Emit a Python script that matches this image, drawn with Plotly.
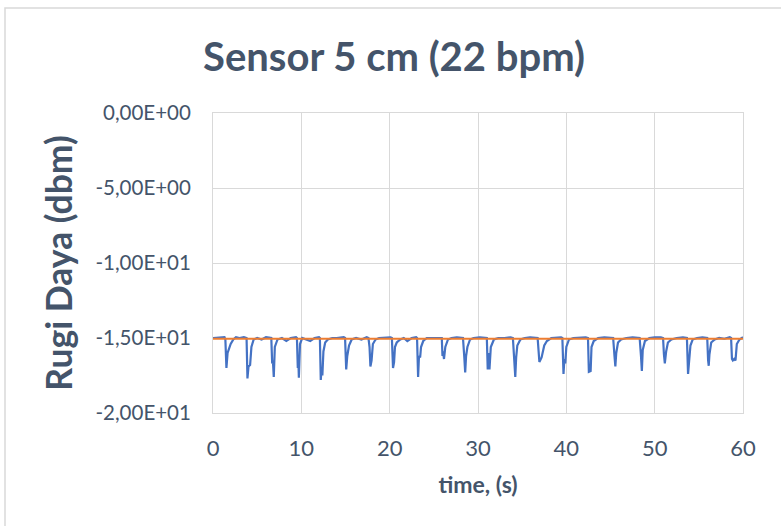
import plotly.graph_objects as go

# Measured optical power loss over one minute of breathing (22 bpm)
time_s = [
    0.0, 0.5, 1.0,
    1.30, 1.40, 1.52, 1.65, 1.80, 2.00, 2.30, 2.60, 3.00, 3.50,
    3.80, 3.90, 4.02, 4.20, 4.35, 4.60, 5.00, 5.50, 6.00, 6.50,
    6.60, 6.70, 6.78, 6.88, 7.00, 7.30, 7.80, 8.30, 8.80, 9.40,
    9.50, 9.60, 9.66, 9.72, 9.85, 10.1, 10.5, 11.0, 11.5, 12.0,
    12.10, 12.20, 12.30, 12.38, 12.50, 12.70, 13.0, 13.5, 14.0, 14.8,
    14.95, 15.08, 15.20, 15.40, 15.70, 16.2, 16.8, 17.4,
    17.60, 17.72, 17.82, 17.95, 18.10, 18.40, 18.8, 19.5, 20.1,
    20.25, 20.38, 20.50, 20.60, 20.80, 21.2, 21.6, 22.0, 22.5, 23.0,
    23.10, 23.22, 23.32, 23.45, 23.55, 23.80, 24.2, 24.8, 25.3, 25.8,
    25.90, 25.98, 26.05, 26.15, 26.30, 26.60, 27.0, 27.6, 28.1,
    28.30, 28.45, 28.55, 28.65, 28.80, 29.1, 29.5, 30.2, 30.8,
    31.00, 31.10, 31.20, 31.30, 31.45, 31.80, 32.3, 33.0, 33.7,
    33.95, 34.10, 34.22, 34.32, 34.45, 34.8, 35.3, 35.9, 36.5,
    36.75, 36.95, 37.2, 37.5, 37.8, 38.3, 38.9, 39.4,
    39.55, 39.68, 39.78, 39.88, 40.0, 40.3, 40.8, 41.5, 42.2,
    42.45, 42.55, 42.75, 42.85, 43.1, 43.6, 44.3, 45.1,
    45.30, 45.45, 45.55, 45.65, 45.85, 46.2, 46.8, 47.5, 48.1,
    48.30, 48.45, 48.55, 48.65, 48.9, 49.4, 50.0, 50.7,
    50.95, 51.05, 51.15, 51.30, 51.50, 51.9, 52.5, 53.2,
    53.65, 53.78, 53.90, 54.05, 54.3, 54.8, 55.4, 55.9,
    55.95, 56.05, 56.12, 56.20, 56.40, 56.8, 57.3, 57.9, 58.5,
    58.65, 58.75, 58.85, 59.0, 59.15, 59.30, 59.6, 60.0,
]
loss_dbm = [
    -15.0, -15.0, -15.0,
    -14.95, -15.1, -17.0, -16.0, -15.7, -15.4, -15.1, -14.95, -15.0, -14.95,
    -15.0, -17.7, -16.9, -16.8, -15.6, -15.1, -15.0, -15.1, -14.95, -14.95,
    -15.0, -16.7, -16.5, -17.6, -15.6, -15.1, -15.0, -15.2, -15.0, -14.95,
    -15.0, -17.0, -16.4, -17.65, -15.4, -15.0, -15.1, -15.2, -15.0, -14.95,
    -15.0, -17.8, -17.0, -17.5, -15.9, -15.3, -15.1, -15.0, -15.0, -14.95,
    -15.0, -17.1, -16.2, -15.5, -15.1, -15.0, -15.1, -14.95,
    -15.0, -15.6, -16.9, -16.5, -15.4, -15.1, -15.0, -14.95, -14.95,
    -15.0, -17.0, -16.6, -15.6, -15.3, -15.1, -15.0, -15.2, -15.0, -14.95,
    -15.0, -17.6, -16.2, -16.3, -15.6, -15.2, -15.0, -15.0, -14.95, -14.95,
    -15.0, -16.2, -15.9, -16.4, -15.6, -15.1, -15.0, -14.95, -14.95,
    -15.0, -16.3, -17.3, -16.2, -15.6, -15.1, -15.0, -14.95, -14.95,
    -15.0, -17.1, -16.0, -17.1, -15.6, -15.1, -15.0, -15.0, -14.95,
    -15.0, -16.2, -17.6, -16.3, -15.5, -15.1, -15.0, -14.95, -14.95,
    -15.0, -16.6, -16.3, -15.5, -15.2, -15.0, -14.95, -14.95,
    -15.0, -17.4, -16.4, -16.7, -15.6, -15.1, -15.0, -14.95, -14.95,
    -15.0, -17.25, -17.2, -15.6, -15.2, -15.0, -14.95, -14.95,
    -15.0, -16.2, -16.9, -16.0, -15.3, -15.1, -15.0, -14.95, -14.95,
    -15.0, -16.2, -17.2, -15.8, -15.2, -15.0, -14.95, -14.95,
    -15.0, -16.1, -16.7, -15.9, -15.3, -15.1, -15.0, -14.95,
    -15.0, -17.4, -16.3, -15.5, -15.1, -15.0, -14.95, -14.95,
    -15.0, -16.5, -16.85, -16.1, -15.3, -15.1, -15.0, -15.05, -14.95,
    -15.0, -16.4, -16.5, -16.4, -16.5, -15.4, -15.1, -14.95,
]

# Reference level
ref_time = [0, 60]
ref_dbm = [-15.05, -15.05]

y_ticks = [0, -5, -10, -15, -20]
y_tick_text = ["0,00E+00", "-5,00E+00", "-1,00E+01", "-1,50E+01", "-2,00E+01"]
x_ticks = [0, 10, 20, 30, 40, 50, 60]

TEXT = "#44546A"
GRID = "#D9D9D9"
FONT = "Lato"

fig = go.Figure()
fig.add_trace(go.Scatter(x=time_s, y=loss_dbm, mode="lines",
                         line=dict(color="#4472C4", width=2.2), showlegend=False))
fig.add_trace(go.Scatter(x=ref_time, y=ref_dbm, mode="lines",
                         line=dict(color="#ED7D31", width=2.2), showlegend=False))

fig.update_layout(
    width=781, height=526,
    margin=dict(l=213, r=38, t=113, b=113),
    paper_bgcolor="white", plot_bgcolor="white",
    font=dict(family=FONT, color=TEXT),
    title=dict(text="<b>Sensor 5 cm (22 bpm)</b>", x=394 / 781, xref="container",
               xanchor="center", y=1 - 57 / 526, yref="container",
               yanchor="middle",
               font=dict(size=40, color=TEXT, family=FONT)),
    xaxis=dict(range=[0, 60], tickvals=x_ticks, showgrid=True, gridcolor=GRID,
               gridwidth=1, zeroline=False, showline=True, linecolor=GRID,
               linewidth=1, mirror=True, ticks="", ticklabelstandoff=16,
               tickfont=dict(size=22, color=TEXT),
               title=dict(text="<b>time, (s)</b>", standoff=16,
                          font=dict(size=23, color=TEXT))),
    yaxis=dict(range=[-20, 0], tickvals=y_ticks, ticktext=y_tick_text,
               showgrid=True, gridcolor=GRID, gridwidth=1, zeroline=False,
               showline=True, linecolor=GRID, linewidth=1, mirror=True,
               ticks="", ticklabelstandoff=17,
               tickfont=dict(size=20.5, color=TEXT),
               title=dict(text="<b>Rugi Daya (dbm)</b>", standoff=12,
                          font=dict(size=35.5, color=TEXT))),
    shapes=[dict(type="rect", xref="paper", yref="paper",
                 x0=(5 - 213) / 530, x1=(790 - 213) / 530,
                 y0=(413 - 540) / 300, y1=(413 - 8) / 300,
                 line=dict(color=GRID, width=1.5), fillcolor="rgba(0,0,0,0)",
                 layer="below")],
)

fig.write_html("out.html")
